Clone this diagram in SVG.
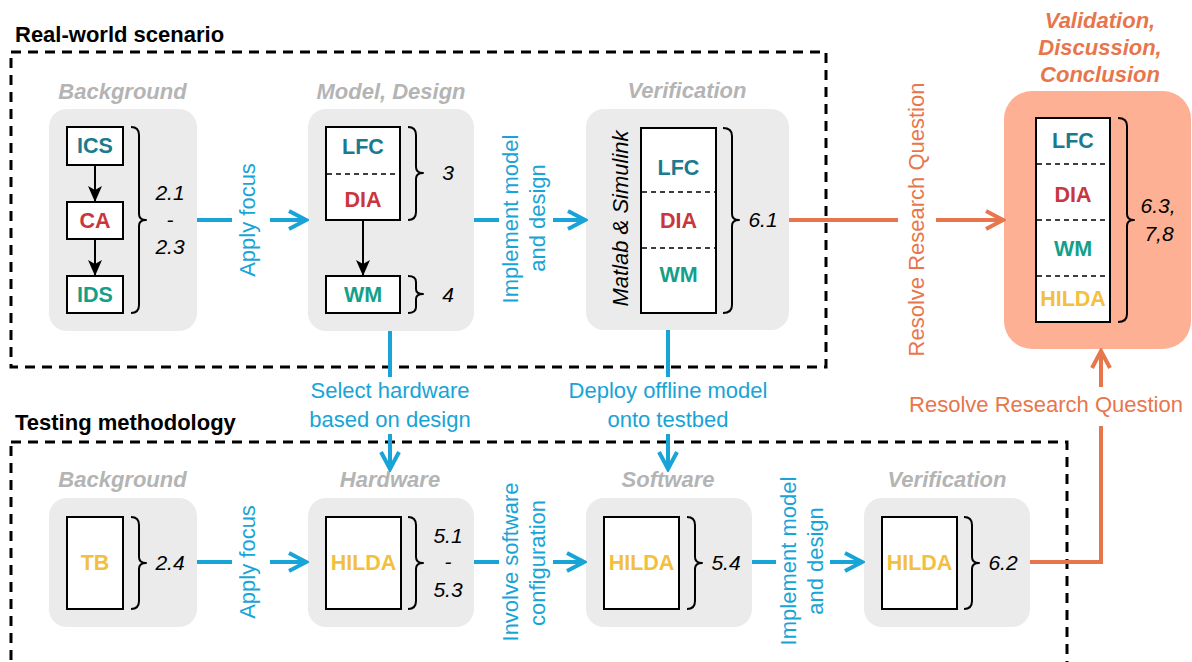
<svg xmlns="http://www.w3.org/2000/svg" width="1192" height="662" viewBox="0 0 1192 662">
  <defs>
    <style>
      .frame { fill: none; stroke: #000; stroke-width: 3; stroke-dasharray: 10 7; }
      .panel { fill: #EBEBEB; }
      .panel-out { fill: #FDB093; }
      .box { fill: #fff; stroke: #000; stroke-width: 2; }
      .sep { stroke: #000; stroke-width: 1.6; stroke-dasharray: 5 4; }
      .brace { fill: none; stroke: #000; stroke-width: 2; stroke-linejoin: round; }
      .title { font-family: "Liberation Sans", Arial, sans-serif; font-weight: bold; font-size: 22px; fill: #000; }
      .stage { font-family: "Liberation Sans", Arial, sans-serif; font-weight: bold; font-style: italic; font-size: 22px; fill: #B4B4B4; text-anchor: middle; }
      .stage-out { font-family: "Liberation Sans", Arial, sans-serif; font-weight: bold; font-style: italic; font-size: 22px; fill: #E8764C; text-anchor: middle; }
      .lbl { font-family: "Liberation Sans", Arial, sans-serif; font-weight: bold; font-size: 21.5px; text-anchor: middle; }
      .lfc { fill: #1B7A8E; }
      .dia { fill: #C9363C; }
      .wm { fill: #13A08A; }
      .hil { fill: #F2BF3F; }
      .num { font-family: "Liberation Sans", Arial, sans-serif; font-style: italic; font-size: 21px; fill: #000; text-anchor: middle; }
      .tool { font-family: "Liberation Sans", Arial, sans-serif; font-style: italic; font-size: 22px; fill: #000; text-anchor: middle; }
      .blue-txt { font-family: "Liberation Sans", Arial, sans-serif; font-size: 22px; fill: #18A4D6; text-anchor: middle; }
      .orange-txt { font-family: "Liberation Sans", Arial, sans-serif; font-size: 22px; fill: #E8764C; text-anchor: middle; }
      .blue { fill: none; stroke: #18A4D6; stroke-width: 4; }
      .orange { fill: none; stroke: #E8764C; stroke-width: 4; }
      .black { fill: none; stroke: #000; stroke-width: 2; }
    </style>
    <marker id="arrow-blue" viewBox="0 0 22 22" refX="19" refY="11" markerWidth="22" markerHeight="22" markerUnits="userSpaceOnUse" orient="auto">
      <path d="M2,2 L19,11 L2,20" fill="none" stroke="#18A4D6" stroke-width="4"/>
    </marker>
    <marker id="arrow-orange" viewBox="0 0 22 22" refX="19" refY="11" markerWidth="22" markerHeight="22" markerUnits="userSpaceOnUse" orient="auto">
      <path d="M2,2 L19,11 L2,20" fill="none" stroke="#E8764C" stroke-width="4"/>
    </marker>
    <marker id="arrow-black" viewBox="0 0 16 14" refX="16" refY="7" markerWidth="16" markerHeight="14" markerUnits="userSpaceOnUse" orient="auto">
      <path d="M0,0 L16,7 L0,14 L4,7 Z" fill="#000"/>
    </marker>
  </defs>

  <rect width="1192" height="662" fill="#fff"/>

  <!-- dashed frames -->
  <g id="frames">
    <rect class="frame" x="11" y="52" width="815" height="315"/>
    <rect class="frame" x="11" y="442" width="1056" height="260"/>
    <text class="title" x="15" y="42">Real-world scenario</text>
    <text class="title" x="15" y="430">Testing methodology</text>
  </g>

  <!-- real-world: background -->
  <g id="rw-background">
    <text class="stage" x="122.5" y="99">Background</text>
    <rect class="panel" x="49" y="109" width="148" height="222" rx="18"/>
    <g id="ics"><rect class="box" x="67" y="127" width="56" height="38"/><text class="lbl lfc" x="95" y="153">ICS</text></g>
    <g id="ca"><rect class="box" x="67" y="202" width="56" height="37"/><text class="lbl dia" x="95" y="228">CA</text></g>
    <g id="ids"><rect class="box" x="67" y="276" width="56" height="37"/><text class="lbl wm" x="95" y="302">IDS</text></g>
    <path class="brace" d="M131,127 Q139,127 139,135 L139,214 Q139,220 146,220 Q139,220 139,226 L139,305 Q139,313 131,313"/>
    <text class="num" x="170" y="200">2.1</text>
    <text class="num" x="170" y="227">-</text>
    <text class="num" x="170" y="254">2.3</text>
  </g>

  <!-- real-world: model, design -->
  <g id="rw-model">
    <text class="stage" x="391" y="99">Model, Design</text>
    <rect class="panel" x="308" y="109" width="166" height="222" rx="18"/>
    <rect class="box" x="326" y="127" width="74" height="93"/>
    <line class="sep" x1="327" y1="174" x2="399" y2="174"/>
    <text class="lbl lfc" x="363" y="154">LFC</text>
    <text class="lbl dia" x="363" y="207">DIA</text>
    <g id="rw-wm"><rect class="box" x="326" y="276" width="74" height="37"/><text class="lbl wm" x="363" y="302">WM</text></g>
    <path class="brace" d="M408,127 Q416,127 416,135 L416,167 Q416,173 423,173 Q416,173 416,179 L416,212 Q416,220 408,220"/>
    <text class="num" x="448" y="180">3</text>
    <path class="brace" d="M408,276 Q416,276 416,282 L416,289 Q416,294 423,294 Q416,294 416,299 L416,307 Q416,313 408,313"/>
    <text class="num" x="448" y="302">4</text>
  </g>

  <!-- real-world: verification -->
  <g id="rw-verification">
    <text class="stage" x="687" y="98">Verification</text>
    <rect class="panel" x="586" y="109" width="203" height="221" rx="18"/>
    <text class="tool" transform="translate(628,218.5) rotate(-90)">Matlab &amp; Simulink</text>
    <rect class="box" x="641" y="128" width="75" height="185"/>
    <line class="sep" x1="642" y1="192" x2="715" y2="192"/>
    <line class="sep" x1="642" y1="248" x2="715" y2="248"/>
    <text class="lbl lfc" x="678.5" y="175">LFC</text>
    <text class="lbl dia" x="678.5" y="228">DIA</text>
    <text class="lbl wm" x="678.5" y="282">WM</text>
    <path class="brace" d="M723,128 Q732,128 732,136 L732,214 Q732,220 739,220 Q732,220 732,226 L732,305 Q732,313 723,313"/>
    <text class="num" x="763" y="227">6.1</text>
  </g>

  <!-- outcome -->
  <g id="validation">
    <text class="stage-out" x="1100" y="28">Validation,</text>
    <text class="stage-out" x="1100" y="55">Discussion,</text>
    <text class="stage-out" x="1100" y="82">Conclusion</text>
    <rect class="panel-out" x="1004" y="91" width="187" height="258" rx="28"/>
    <rect class="box" x="1036" y="118" width="74" height="204"/>
    <line class="sep" x1="1037" y1="164" x2="1109" y2="164"/>
    <line class="sep" x1="1037" y1="220" x2="1109" y2="220"/>
    <line class="sep" x1="1037" y1="276" x2="1109" y2="276"/>
    <text class="lbl lfc" x="1073" y="148">LFC</text>
    <text class="lbl dia" x="1073" y="202">DIA</text>
    <text class="lbl wm" x="1073" y="256">WM</text>
    <text class="lbl hil" x="1073" y="306">HILDA</text>
    <path class="brace" d="M1118,118 Q1127,118 1127,126 L1127,214 Q1127,220 1134,220 Q1127,220 1127,226 L1127,314 Q1127,322 1118,322"/>
    <text class="num" x="1158" y="213">6.3,</text>
    <text class="num" x="1159" y="241">7,8</text>
  </g>

  <!-- testing: background -->
  <g id="tm-background">
    <text class="stage" x="122.5" y="487">Background</text>
    <rect class="panel" x="49" y="498" width="148" height="129" rx="18"/>
    <rect class="box" x="67" y="517" width="56" height="92"/>
    <text class="lbl hil" x="95" y="570">TB</text>
    <path class="brace" d="M131,517 Q139,517 139,525 L139,557 Q139,563 146,563 Q139,563 139,569 L139,601 Q139,609 131,609"/>
    <text class="num" x="170" y="570">2.4</text>
  </g>

  <!-- testing: hardware -->
  <g id="tm-hardware">
    <text class="stage" x="390" y="487">Hardware</text>
    <rect class="panel" x="308" y="498" width="166" height="129" rx="18"/>
    <rect class="box" x="326" y="517" width="75" height="92"/>
    <text class="lbl hil" x="363.5" y="570">HILDA</text>
    <path class="brace" d="M408,517 Q416,517 416,525 L416,557 Q416,563 423,563 Q416,563 416,569 L416,601 Q416,609 408,609"/>
    <text class="num" x="448" y="543">5.1</text>
    <text class="num" x="448" y="569">-</text>
    <text class="num" x="448" y="597">5.3</text>
  </g>

  <!-- testing: software -->
  <g id="tm-software">
    <text class="stage" x="668" y="487">Software</text>
    <rect class="panel" x="586" y="498" width="166" height="129" rx="18"/>
    <rect class="box" x="604" y="517" width="75" height="92"/>
    <text class="lbl hil" x="641.5" y="570">HILDA</text>
    <path class="brace" d="M687,517 Q695,517 695,525 L695,557 Q695,563 702,563 Q695,563 695,569 L695,601 Q695,609 687,609"/>
    <text class="num" x="726" y="570">5.4</text>
  </g>

  <!-- testing: verification -->
  <g id="tm-verification">
    <text class="stage" x="947" y="487">Verification</text>
    <rect class="panel" x="864" y="498" width="166" height="129" rx="18"/>
    <rect class="box" x="882" y="517" width="75" height="92"/>
    <text class="lbl hil" x="919.5" y="570">HILDA</text>
    <path class="brace" d="M964,517 Q972,517 972,525 L972,557 Q972,563 979,563 Q972,563 972,569 L972,601 Q972,609 964,609"/>
    <text class="num" x="1003" y="570">6.2</text>
  </g>

  <!-- connectors -->
  <g id="connectors">
    <line class="black" x1="95" y1="165" x2="95" y2="202" marker-end="url(#arrow-black)"/>
    <line class="black" x1="95" y1="239" x2="95" y2="276" marker-end="url(#arrow-black)"/>
    <line class="black" x1="363" y1="220" x2="363" y2="276" marker-end="url(#arrow-black)"/>

    <line class="blue" x1="197" y1="220" x2="232" y2="220"/>
    <line class="blue" x1="270" y1="220" x2="306" y2="220" marker-end="url(#arrow-blue)"/>
    <text class="blue-txt" transform="translate(255,220) rotate(-90)">Apply focus</text>

    <line class="blue" x1="474" y1="220" x2="499" y2="220"/>
    <line class="blue" x1="553" y1="220" x2="585" y2="220" marker-end="url(#arrow-blue)"/>
    <text class="blue-txt" transform="translate(518,219) rotate(-90)">Implement model</text>
    <text class="blue-txt" transform="translate(545,218) rotate(-90)">and design</text>

    <line class="orange" x1="789" y1="220" x2="898" y2="220"/>
    <line class="orange" x1="936" y1="220" x2="1003" y2="220" marker-end="url(#arrow-orange)"/>
    <text class="orange-txt" transform="translate(924,219.5) rotate(-90)">Resolve Research Question</text>

    <line class="blue" x1="390" y1="331" x2="390" y2="377"/>
    <line class="blue" x1="390" y1="434" x2="390" y2="469" marker-end="url(#arrow-blue)"/>
    <text class="blue-txt" x="390" y="398">Select hardware</text>
    <text class="blue-txt" x="390" y="427">based on design</text>

    <line class="blue" x1="668" y1="330" x2="668" y2="377"/>
    <line class="blue" x1="668" y1="434" x2="668" y2="469" marker-end="url(#arrow-blue)"/>
    <text class="blue-txt" x="668" y="398">Deploy offline model</text>
    <text class="blue-txt" x="668" y="427">onto testbed</text>

    <line class="blue" x1="197" y1="562" x2="232" y2="562"/>
    <line class="blue" x1="270" y1="562" x2="306" y2="562" marker-end="url(#arrow-blue)"/>
    <text class="blue-txt" transform="translate(255,562) rotate(-90)">Apply focus</text>

    <line class="blue" x1="474" y1="562" x2="499" y2="562"/>
    <line class="blue" x1="553" y1="562" x2="584" y2="562" marker-end="url(#arrow-blue)"/>
    <text class="blue-txt" transform="translate(518,562) rotate(-90)">Involve software</text>
    <text class="blue-txt" transform="translate(545,563) rotate(-90)">configuration</text>

    <line class="blue" x1="752" y1="562" x2="776" y2="562"/>
    <line class="blue" x1="830" y1="562" x2="862" y2="562" marker-end="url(#arrow-blue)"/>
    <text class="blue-txt" transform="translate(796,561) rotate(-90)">Implement model</text>
    <text class="blue-txt" transform="translate(823,561) rotate(-90)">and design</text>

    <polyline class="orange" points="1030,562 1101,562 1101,426"/>
    <line class="orange" x1="1101" y1="387" x2="1101" y2="351" marker-end="url(#arrow-orange)"/>
    <text class="orange-txt" x="1046" y="412">Resolve Research Question</text>
  </g>
</svg>
